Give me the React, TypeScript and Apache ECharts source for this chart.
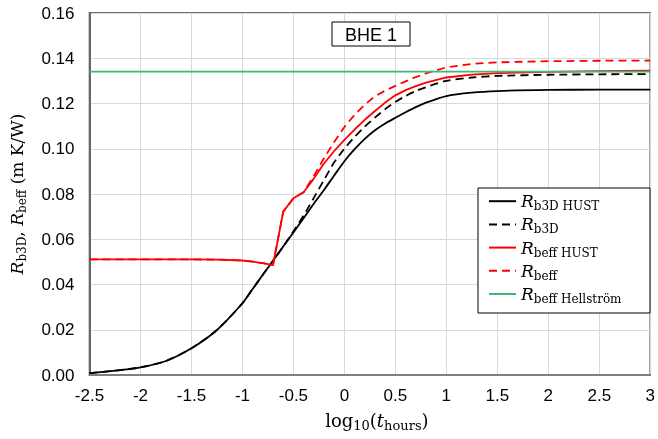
import React, { useEffect, useRef } from "react";
import * as echarts from "echarts";

const xs = [-2.5, -2.25, -2, -1.75, -1.5, -1.25, -1, -0.9, -0.8, -0.7, -0.6, -0.5, -0.4, -0.3, -0.2, -0.1, 0, 0.1, 0.2, 0.3, 0.4, 0.5, 0.6, 0.7, 0.8, 1.0, 1.25, 1.5, 2, 2.5, 3];

const rb3dHust = [0.0008, 0.0019, 0.0034, 0.0062, 0.0118, 0.0199, 0.0317, 0.038, 0.0443, 0.0505, 0.0568, 0.063, 0.0693, 0.0757, 0.0818, 0.0882, 0.0945, 0.0998, 0.1044, 0.1082, 0.1112, 0.1137, 0.1161, 0.1184, 0.1204, 0.1233, 0.1248, 0.1255, 0.126, 0.1261, 0.1261];

const rb3d = [0.0008, 0.0019, 0.0034, 0.0062, 0.0118, 0.0199, 0.0317, 0.038, 0.0443, 0.0505, 0.0568, 0.0635, 0.0705, 0.0783, 0.0862, 0.094, 0.1, 0.1052, 0.1098, 0.1138, 0.1175, 0.1207, 0.1233, 0.1255, 0.1272, 0.13, 0.1315, 0.1322, 0.1327, 0.1329, 0.133];

const rbeffHust = [0.0511, 0.0511, 0.0511, 0.0511, 0.0511, 0.051, 0.0506, 0.0501, 0.0494, 0.0486, 0.0722, 0.0781, 0.0808, 0.0868, 0.0935, 0.099, 0.1039, 0.1085, 0.1128, 0.1167, 0.1204, 0.1236, 0.1259, 0.1277, 0.1292, 0.1315, 0.1328, 0.1334, 0.134, 0.1343, 0.1345];

const rbeff = [0.0511, 0.0511, 0.0511, 0.0511, 0.0511, 0.051, 0.0506, 0.0501, 0.0494, 0.0486, 0.0722, 0.0781, 0.0808, 0.088, 0.0958, 0.103, 0.1096, 0.115, 0.1195, 0.1232, 0.1257, 0.1278, 0.1298, 0.1317, 0.1333, 0.136, 0.1375, 0.1382, 0.1387, 0.1389, 0.139];

const hellstromX = [-2.5, 3];
const hellstrom = [0.1341, 0.1341];

const seriesNames = ["Rb3D HUST", "Rb3D", "Rbeff HUST", "Rbeff", "Rbeff Hellström"];
const legendRich: Record<string, string> = {
  "Rb3D HUST": "{i|R}{s|b3D HUST}",
  "Rb3D": "{i|R}{s|b3D}",
  "Rbeff HUST": "{i|R}{s|beff HUST}",
  "Rbeff": "{i|R}{s|beff}",
  "Rbeff Hellström": "{i|R}{s|beff Hellström}",
};

const xTicks = { min: -2.5, max: 3, interval: 0.5 };
const yTicks = { min: 0, max: 0.16, interval: 0.02 };

const SERIF = "'DejaVu Serif', 'Liberation Serif', serif";
const SANS = "'Liberation Sans', Arial, sans-serif";

const makeRich = (main: number, sub: number) => ({
  i: { fontFamily: SERIF, fontStyle: "italic", fontSize: main, lineHeight: main + 5, color: "#000" },
  n: { fontFamily: SERIF, fontSize: main, lineHeight: main + 5, color: "#000" },
  s: { fontFamily: SERIF, fontSize: sub, lineHeight: sub, verticalAlign: "bottom", color: "#000" },
});

const zip = (a: number[], b: number[]) => a.map((v, i) => [v, b[i]]);

export default function App() {
  const ref = useRef<HTMLDivElement>(null);
  useEffect(() => {
    if (!ref.current) return;
    const chart = echarts.init(ref.current, null, { renderer: "svg" });
    const lineSeries = (name: string, data: number[][], color: string, dashed: boolean, smooth: number | boolean) => ({
      name,
      type: "line",
      data,
      symbol: "none",
      showSymbol: false,
      smooth,
      lineStyle: { color, width: 1.8, type: dashed ? [8, 5] : "solid" },
      itemStyle: { color },
    });
    chart.setOption({
      animation: false,
      grid: { left: 89, right: 2, top: 13, bottom: 64, show: true, borderColor: "#404040", borderWidth: 1.5, backgroundColor: "transparent" },
      graphic: [
        { type: "rect", shape: { x: 478, y: 188, width: 172, height: 125 }, style: { fill: "#fff", stroke: "#000", lineWidth: 1 }, z: 3 },
        { type: "rect", shape: { x: 332, y: 22, width: 78, height: 24 }, style: { fill: "#fff", stroke: "#000", lineWidth: 1 }, z: 3 },
        { type: "text", x: 371, y: 34.5, style: { text: "BHE 1", fontFamily: SANS, fontSize: 18, fill: "#000", align: "center", verticalAlign: "middle" }, z: 4 },
      ],
      legend: {
        orient: "vertical",
        left: 478,
        top: 188,
        padding: [4, 8, 2, 10],
        itemWidth: 27,
        itemHeight: 23,
        itemGap: 3,
        data: seriesNames,
        itemStyle: { opacity: 0 },
        formatter: (name: string) => legendRich[name] || name,
        textStyle: { rich: makeRich(17, 12) },
        z: 5,
      },
      xAxis: {
        type: "value",
        min: xTicks.min,
        max: xTicks.max,
        interval: xTicks.interval,
        axisLine: { show: true, onZero: false, lineStyle: { color: "#7f7f7f", width: 2 } },
        axisTick: { show: false },
        axisLabel: { fontFamily: SANS, fontSize: 17, color: "#000", margin: 12 },
        splitLine: { show: true, lineStyle: { color: "#d9d9d9", width: 1 } },
        name: "{n|log}{s|10}{n|(}{i|t}{s|hours}{n|)}",
        nameLocation: "middle",
        nameGap: 34,
        nameTextStyle: { rich: makeRich(18, 13), padding: [0, 0, 0, 14] },
      },
      yAxis: {
        type: "value",
        min: yTicks.min,
        max: yTicks.max,
        interval: yTicks.interval,
        axisLine: { show: true, onZero: false, lineStyle: { color: "#404040", width: 1.5 } },
        axisTick: { show: false },
        axisLabel: { fontFamily: SANS, fontSize: 17, color: "#000", margin: 15, formatter: (v: number) => v.toFixed(2) },
        splitLine: { show: true, lineStyle: { color: "#d9d9d9", width: 1 } },
        name: "{i|R}{s|b3D}{n|, }{i|R}{s|beff}{n| (m K/W)}",
        nameLocation: "middle",
        nameGap: 62,
        nameRotate: 90,
        nameTextStyle: { rich: makeRich(17, 12) },
      },
      series: [
        lineSeries(seriesNames[0], zip(xs, rb3dHust), "#000000", false, 0.25),
        lineSeries(seriesNames[1], zip(xs, rb3d), "#000000", true, 0.25),
        lineSeries(seriesNames[2], zip(xs, rbeffHust), "#ff0000", false, false),
        lineSeries(seriesNames[3], zip(xs, rbeff), "#ff0000", true, false),
        lineSeries(seriesNames[4], zip(hellstromX, hellstrom), "#3cb878", false, false),
      ],
    });
    return () => chart.dispose();
  }, []);
  return <div ref={ref} style={{ position: "fixed", left: 0, top: 0, width: 658, height: 439 }} />;
}
